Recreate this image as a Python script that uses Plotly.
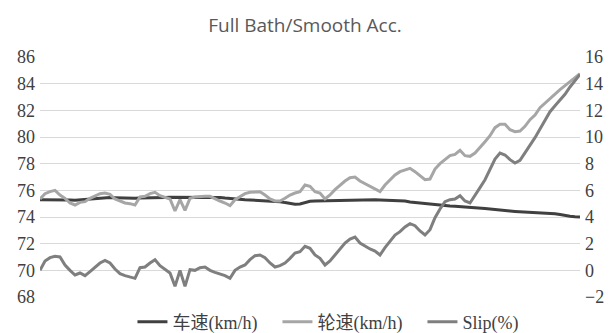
import plotly.graph_objects as go

# sample index (time steps)
samples = list(range(109))

car_speed = [
    75.30, 75.30, 75.32, 75.33, 75.33, 75.30, 75.28, 75.25, 75.28, 75.32,
    75.38, 75.42, 75.45, 75.47, 75.47, 75.45, 75.43, 75.42, 75.40, 75.40,
    75.42, 75.44, 75.45, 75.46, 75.47, 75.47, 75.48, 75.48, 75.48, 75.48,
    75.48, 75.48, 75.49, 75.50, 75.50, 75.48, 75.46, 75.42, 75.38, 75.35,
    75.32, 75.30, 75.28, 75.26, 75.25, 75.24, 75.22, 75.20, 75.15, 75.08,
    75.02, 74.96, 74.98, 75.10, 75.18, 75.20, 75.21, 75.21, 75.21, 75.21,
    75.22, 75.24, 75.26, 75.28, 75.30, 75.30, 75.30, 75.30, 75.28, 75.27,
    75.26, 75.25, 75.24, 75.20, 75.12, 75.08, 75.02, 74.98, 74.94, 74.90,
    74.87, 74.84, 74.82, 74.80, 74.78, 74.77, 74.75, 74.72, 74.68, 74.64,
    74.60, 74.55, 74.50, 74.47, 74.45, 74.42, 74.40, 74.37, 74.35, 74.33,
    74.32, 74.30, 74.28, 74.24, 74.18, 74.10, 74.05, 74.02, 74.00,
]

wheel_speed = [
    75.35, 75.75, 75.90, 76.00, 75.65, 75.40, 75.05, 74.90, 75.10, 75.15,
    75.40, 75.55, 75.75, 75.80, 75.70, 75.35, 75.20, 75.05, 75.00, 74.90,
    75.50, 75.55, 75.75, 75.85, 75.60, 75.50, 75.35, 74.45, 75.30, 74.50,
    75.40, 75.50, 75.55, 75.55, 75.55, 75.35, 75.20, 75.05, 74.85, 75.30,
    75.50, 75.75, 75.85, 75.90, 75.90, 75.65, 75.35, 75.20, 75.20, 75.40,
    75.65, 75.80, 75.90, 76.40, 76.30, 75.90, 75.80, 75.35, 75.65, 76.05,
    76.40, 76.70, 76.95, 77.00, 76.70, 76.50, 76.35, 76.15, 75.90, 76.40,
    76.80, 77.15, 77.40, 77.55, 77.65, 77.40, 77.10, 76.80, 76.85, 77.60,
    78.00, 78.30, 78.60, 78.70, 79.00, 78.60, 78.55, 78.80, 79.20, 79.65,
    80.10, 80.70, 80.95, 80.95, 80.55, 80.40, 80.45, 80.80, 81.30, 81.65,
    82.20, 82.55, 82.85, 83.25, 83.55, 83.85, 84.15, 84.45, 84.75,
]

slip = [
    0.00, 0.70, 0.95, 1.05, 1.00, 0.40, 0.00, -0.35, -0.20, -0.40,
    -0.10, 0.25, 0.55, 0.75, 0.55, 0.10, -0.25, -0.40, -0.50, -0.60,
    0.20, 0.25, 0.55, 0.80, 0.35, 0.10, -0.20, -1.20, 0.00, -1.20,
    0.05, 0.00, 0.20, 0.25, 0.00, -0.15, -0.25, -0.40, -0.60, 0.00,
    0.25, 0.40, 0.80, 1.10, 1.15, 0.95, 0.55, 0.25, 0.35, 0.55,
    0.90, 1.30, 1.40, 1.80, 1.65, 1.15, 0.90, 0.40, 0.70, 1.15,
    1.65, 2.05, 2.35, 2.50, 2.05, 1.80, 1.60, 1.45, 1.15, 1.70,
    2.20, 2.65, 2.90, 3.25, 3.50, 3.35, 2.95, 2.65, 3.05, 3.95,
    4.60, 5.15, 5.30, 5.35, 5.60, 5.20, 5.05, 5.60, 6.20, 6.80,
    7.55, 8.35, 8.80, 8.65, 8.30, 8.05, 8.25, 8.80, 9.40, 9.95,
    10.60, 11.30, 11.90, 12.35, 12.80, 13.20, 13.75, 14.20, 14.70,
]

left_ticks = [68, 70, 72, 74, 76, 78, 80, 82, 84, 86]
right_ticks = [-2, 0, 2, 4, 6, 8, 10, 12, 14, 16]

fig = go.Figure()
fig.add_trace(go.Scatter(x=samples, y=car_speed, mode="lines", name="车速(km/h)",
                         line=dict(color="#404040", width=3), yaxis="y"))
fig.add_trace(go.Scatter(x=samples, y=wheel_speed, mode="lines", name="轮速(km/h)",
                         line=dict(color="#a6a6a6", width=3), yaxis="y"))
fig.add_trace(go.Scatter(x=samples, y=slip, mode="lines", name="Slip(%)",
                         line=dict(color="#7f7f7f", width=3), yaxis="y2"))

tickfont = dict(family="Liberation Serif", size=18, color="#404040")

fig.update_layout(
    width=610, height=333,
    margin=dict(l=40, r=30, t=57, b=36, autoexpand=False),
    paper_bgcolor="white", plot_bgcolor="white",
    title=dict(text="Full Bath/Smooth Acc.", x=0.5, xanchor="center",
               yref="container", y=1 - 25 / 333, yanchor="middle",
               font=dict(family="Open Sans", size=19, color="#595959")),
    xaxis=dict(range=[0, 108], showgrid=False, showticklabels=False, zeroline=False,
               showline=False, ticks=""),
    yaxis=dict(range=[68, 86], tickvals=left_ticks, showgrid=True, gridcolor="#d9d9d9",
               gridwidth=1, zeroline=False, showline=False, ticks="", tickfont=tickfont,
               ticklabelstandoff=4),
    yaxis2=dict(range=[-2, 16], tickvals=right_ticks, overlaying="y", side="right",
                showgrid=False, zeroline=False, showline=False, ticks="", tickfont=tickfont,
                ticklabelstandoff=4),
    legend=dict(orientation="h", x=0.574, xanchor="center",
                yref="container", y=1 - 322 / 333, yanchor="middle",
                font=dict(family="Liberation Serif, Noto Sans CJK SC", size=18, color="#404040"),
                tracegroupgap=0, bgcolor="rgba(0,0,0,0)", entrywidth=100),
    showlegend=True,
)

fig.write_html("out.html", config={"displayModeBar": False},
               post_script="document.body.style.margin='0';document.body.style.overflow='hidden';")
